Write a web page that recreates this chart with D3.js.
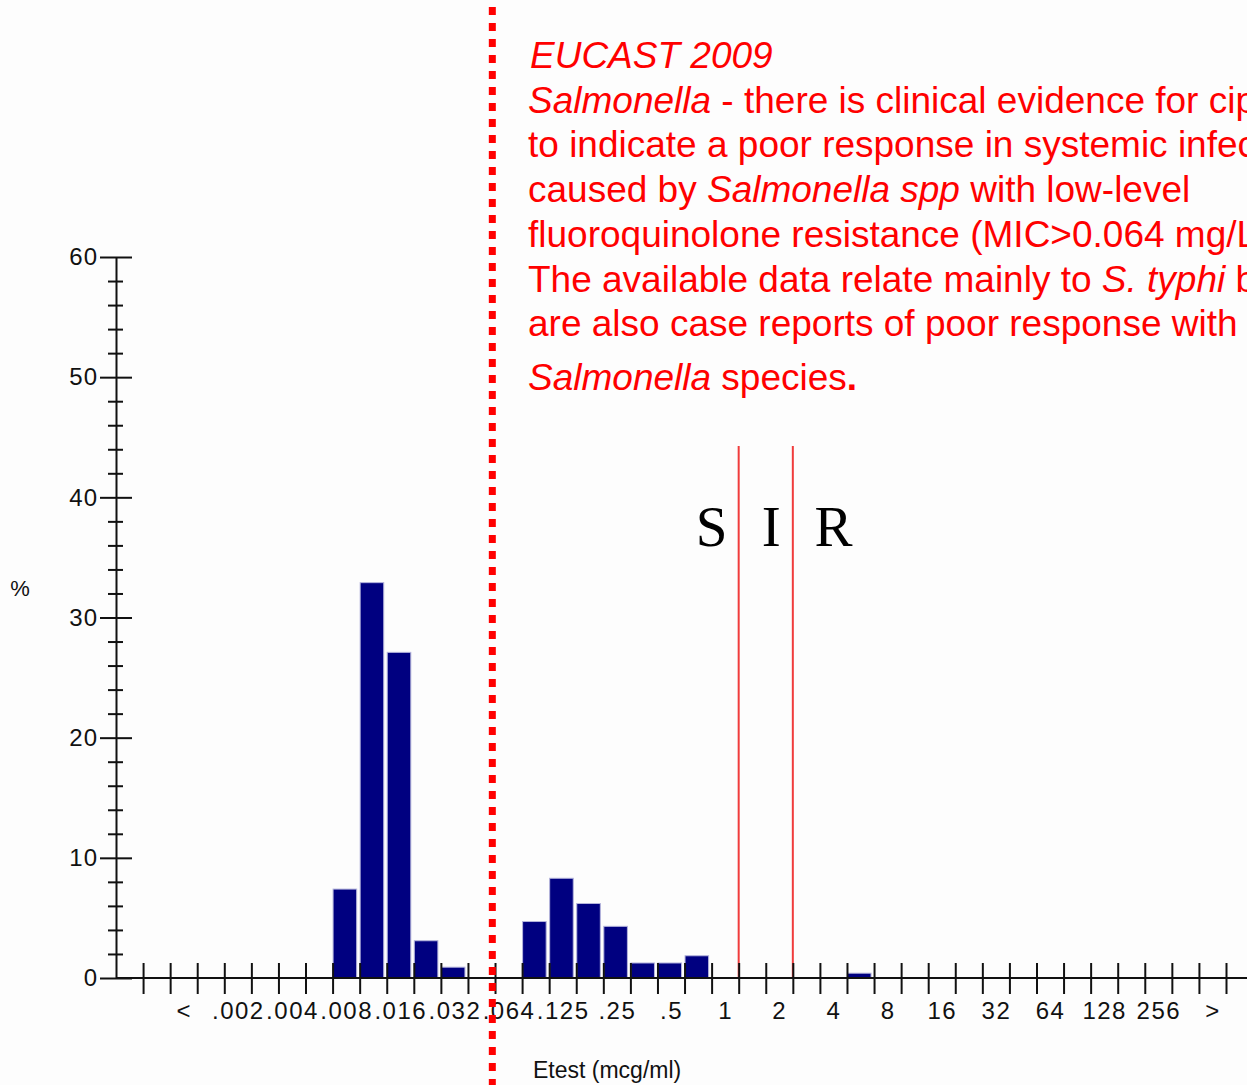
<!DOCTYPE html>
<html>
<head>
<meta charset="utf-8">
<script src="https://cdn.jsdelivr.net/npm/d3@7"></script>
<style>
  body { margin: 0; background: #fdfdfd; }
  svg { display: block; }
</style>
</head>
<body>
<svg id="chart" width="1247" height="1085"></svg>
<script>
// half-dilution Etest bins, one per tick interval
const binLabels = ["", "", "<", "", ".002", ".003", ".004", ".006", ".008", ".012", ".016", ".023",
    ".032", ".047", ".064", ".094", ".125", ".19", ".25", ".38", ".5", ".75", "1", "1.5", "2", "3",
    "4", "6", "8", "12", "16", "24", "32", "48", "64", "96", "128", "192", "256", "", ">"];

// labels printed under the axis (every second bin)
const tickLabels = ["<", ".002", ".004", ".008", ".016", ".032", ".064", ".125", ".25", ".5",
    "1", "2", "4", "8", "16", "32", "64", "128", "256", ">"];

// bars
const barMics = [".008", ".012", ".016", ".023", ".032", ".094", ".125", ".19", ".25", ".38", ".5", ".75", "6"];
const barPercent = [7.4, 32.9, 27.1, 3.1, 0.9, 4.7, 8.3, 6.2, 4.3, 1.25, 1.25, 1.85, 0.4];

// breakpoints: S <= 1, R > 2
const breakpointMics = ["1", "2"];

const svg = d3.select('#chart');
const width = +svg.attr('width');
const height = +svg.attr('height');

svg.append('rect')
    .attr('width', width)
    .attr('height', height)
    .attr('fill', '#fdfdfd');

const x = d3.scaleLinear()
    .domain([0, binLabels.length])
    .range([116, 1226]);

const y = d3.scaleLinear()
    .domain([0, 60])
    .range([978, 257]);

const labelFont = '"Liberation Sans", Arial, sans-serif';

// bars
const bars = barMics.map((m, i) => ({ bin: binLabels.indexOf(m), value: barPercent[i] }));

svg.append('g')
    .selectAll('rect')
    .data(bars)
    .enter().append('rect')
    .attr('x', d => x(d.bin) + 0.5)
    .attr('y', d => y(d.value))
    .attr('width', d => x(d.bin + 1) - x(d.bin) - 3.5)
    .attr('height', d => y(0) - y(d.value))
    .attr('fill', '#000080')
    .attr('stroke', '#b4b4dc')
    .attr('stroke-width', 1);

// breakpoint lines
svg.append('g')
    .selectAll('line')
    .data(breakpointMics)
    .enter().append('line')
    .attr('x1', d => x(binLabels.indexOf(d) + 1))
    .attr('x2', d => x(binLabels.indexOf(d) + 1))
    .attr('y1', 446)
    .attr('y2', y(0))
    .attr('stroke', '#f03c3c')
    .attr('stroke-width', 2);

// x axis: ticks above and below the line
const xTicks = svg.append('g')
    .attr('transform', `translate(0, ${y(0)})`)
    .call(d3.axisBottom(x)
        .tickValues(d3.range(1, binLabels.length + 1))
        .tickSizeInner(16)
        .tickSizeOuter(0)
        .tickFormat(''));
xTicks.select('.domain').remove();
xTicks.selectAll('.tick line')
    .attr('y1', -15)
    .attr('stroke', '#111')
    .attr('stroke-width', 2);

svg.append('line')
    .attr('x1', x(0))
    .attr('x2', width)
    .attr('y1', y(0))
    .attr('y2', y(0))
    .attr('stroke', '#111')
    .attr('stroke-width', 2);

// x labels centred in their bins
const xLabels = svg.append('g')
    .attr('transform', `translate(0, ${y(0)})`)
    .call(d3.axisBottom(x)
        .tickValues(tickLabels.map(t => binLabels.indexOf(t) + 0.5))
        .tickSize(0)
        .tickPadding(24)
        .tickFormat((d, i) => tickLabels[i]));
xLabels.select('.domain').remove();
xLabels.selectAll('text')
    .attr('font-family', labelFont)
    .attr('font-size', 24)
    .attr('letter-spacing', 1.5)
    .attr('fill', '#111');

// y axis, major ticks
const yMajor = svg.append('g')
    .attr('transform', `translate(${x(0)}, 0)`)
    .call(d3.axisLeft(y)
        .tickValues(d3.range(0, 61, 10))
        .tickSizeInner(16)
        .tickSizeOuter(0)
        .tickPadding(2));
yMajor.select('.domain')
    .attr('stroke', '#111')
    .attr('stroke-width', 2);
yMajor.selectAll('.tick line')
    .attr('x1', 16)
    .attr('stroke', '#111')
    .attr('stroke-width', 2);
yMajor.selectAll('text')
    .attr('font-family', labelFont)
    .attr('font-size', 24)
    .attr('letter-spacing', 1)
    .attr('fill', '#111');

// y axis, minor ticks
const yMinor = svg.append('g')
    .attr('transform', `translate(${x(0)}, 0)`)
    .call(d3.axisLeft(y)
        .tickValues(d3.range(0, 61, 2).filter(v => v % 10 !== 0))
        .tickSizeInner(8)
        .tickSizeOuter(0)
        .tickFormat(''));
yMinor.select('.domain').remove();
yMinor.selectAll('.tick line')
    .attr('x1', 7)
    .attr('stroke', '#111')
    .attr('stroke-width', 2);

// axis titles
svg.append('text')
    .attr('x', 20)
    .attr('y', 596)
    .attr('text-anchor', 'middle')
    .attr('font-family', labelFont)
    .attr('font-size', 22)
    .attr('fill', '#111')
    .text('%');

svg.append('text')
    .attr('x', 533)
    .attr('y', 1078)
    .attr('font-family', labelFont)
    .attr('font-size', 23)
    .attr('fill', '#111')
    .text('Etest (mcg/ml)');

// S I R
const sir = [['S', 22], ['I', 24.2], ['R', 26.5]];
svg.append('g')
    .selectAll('text')
    .data(sir)
    .enter().append('text')
    .attr('x', d => x(d[1]))
    .attr('y', 546)
    .attr('text-anchor', 'middle')
    .attr('font-family', '"Liberation Serif", "Times New Roman", serif')
    .attr('font-size', 57)
    .attr('fill', '#000')
    .text(d => d[0]);

// EUCAST dotted line (drawn at MIC 0.064 annotation)
svg.append('line')
    .attr('x1', x(13.9))
    .attr('x2', x(13.9))
    .attr('y1', 7)
    .attr('y2', height)
    .attr('stroke', '#ff0000')
    .attr('stroke-width', 7)
    .attr('stroke-dasharray', '8,8');

// note text (runs past the right edge, as in the original slide)
const noteLines = [
    [['EUCAST 2009', true]],
    [['Salmonella', true], [' - there is clinical evidence for ciprofloxacin', false]],
    [['to indicate a poor response in systemic infections', false]],
    [['caused by ', false], ['Salmonella spp', true], [' with low-level', false]],
    [['fluoroquinolone resistance (MIC>0.064 mg/L).', false]],
    [['The available data relate mainly to ', false], ['S. typhi', true], [' but there', false]],
    [['are also case reports of poor response with other', false]],
    [['Salmonella', true], [' species', false], ['.', false]]
];
const noteY = [68, 112.7, 157.4, 202.1, 246.8, 291.5, 336.2, 390];

const note = svg.append('g')
    .attr('font-family', labelFont)
    .attr('font-size', 37)
    .attr('fill', '#ff0000');

noteLines.forEach((parts, i) => {
    const t = note.append('text')
        .attr('x', i === 0 ? 530 : 528)
        .attr('y', noteY[i]);
    parts.forEach((p, j) => {
        t.append('tspan')
            .attr('font-style', p[1] ? 'italic' : 'normal')
            .attr('font-weight', i === 7 && j === 2 ? 'bold' : 'normal')
            .text(p[0]);
    });
});
</script>
</body>
</html>
